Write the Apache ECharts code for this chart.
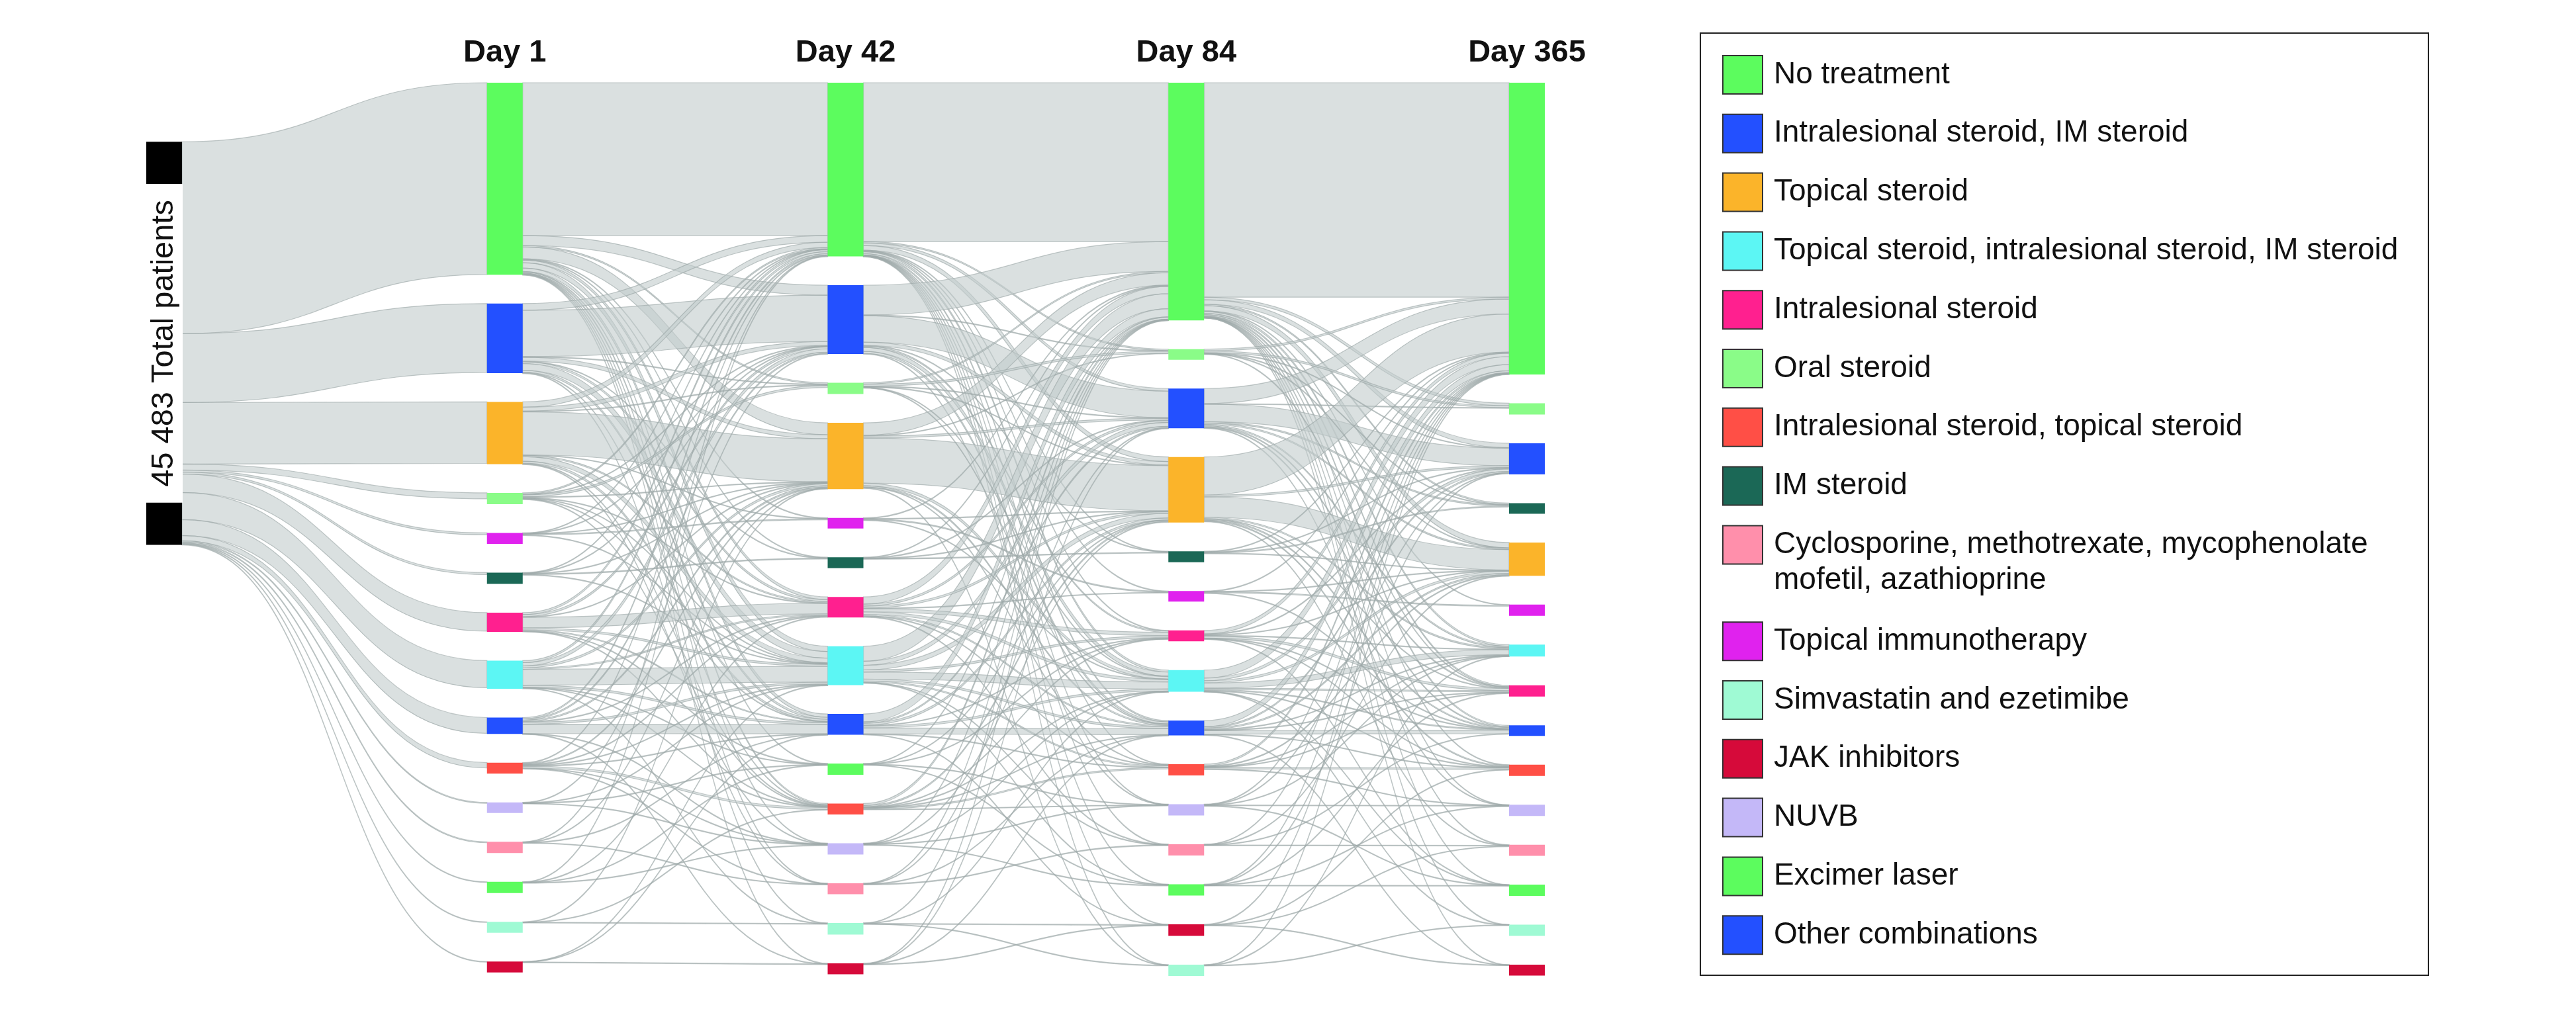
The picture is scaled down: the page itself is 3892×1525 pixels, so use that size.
<!DOCTYPE html>
<html><head><meta charset="utf-8">
<script src="https://cdn.jsdelivr.net/npm/echarts@6/dist/echarts.min.js"></script>
<style>html,body{margin:0;padding:0;background:#fff;}#c{width:3892px;height:1525px;}</style>
</head><body><div id="c"></div>
<script>
// ---------------- DATA ----------------
const categories = [
  'No treatment',
  'Intralesional steroid, IM steroid',
  'Topical steroid',
  'Topical steroid, intralesional steroid, IM steroid',
  'Intralesional steroid',
  'Oral steroid',
  'Intralesional steroid, topical steroid',
  'IM steroid',
  'Cyclosporine, methotrexate, mycophenolate\nmofetil, azathioprine',
  'Topical immunotherapy',
  'Simvastatin and ezetimibe',
  'JAK inhibitors',
  'NUVB',
  'Excimer laser',
  'Other combinations'
];
const dayLabels = ['Day 1', 'Day 42', 'Day 84', 'Day 365'];
const sourceLabel = '45 483 Total patients';

// node order (category index) in each column, top to bottom
const order1   = [0, 1, 2, 5, 9, 7, 4, 3, 14, 6, 12, 8, 13, 10, 11];
const order42  = [0, 1, 5, 2, 9, 7, 4, 3, 14, 13, 6, 12, 8, 10, 11];
const order84  = [0, 5, 1, 2, 7, 9, 4, 3, 14, 6, 12, 8, 13, 11, 10];
const order365 = [0, 5, 1, 7, 2, 9, 3, 4, 14, 6, 12, 8, 13, 10, 11];

// displayed node sizes (patients), in category order
const size1   = [21588, 7545, 6798, 3175, 2166, 1270, 1233, 1270, 1270, 1233, 1233, 1233, 1195, 1270, 1793];
const size42  = [19200, 7770, 7470, 4220, 2315, 1270, 1233, 1233, 1233, 1195, 1307, 1233, 1270, 1270, 2090];
const size84  = [26670, 4295, 7395, 2360, 1233, 1195, 1270, 1233, 1270, 1195, 1270, 1307, 1270, 1270, 1530];
const size365 = [32920, 3510, 3660, 1345, 1270, 1270, 1270, 1195, 1240, 1270, 1270, 1233, 1270, 1270, 1195];

// patients from the total into each Day 1 category (category order)
const sourceFlows = [21648, 7770, 6950, 3060, 2090, 670, 600, 225, 115, 225, 75, 75, 115, 75, 1790];

// transitions: [from category, to category, patients]
const flows1to42 = [
  [0,0,17255],[0,1,1120],[0,2,1345],[0,5,150],[0,4,300],[0,3,600],[0,14,375],[0,6,150],[0,9,75],[0,7,75],[0,13,50],[0,8,50],[0,12,50],[0,10,40],[0,11,40],
  [1,1,5230],[1,0,750],[1,2,450],[1,3,750],[1,4,225],[1,14,225],[1,5,75],[1,6,75],[1,7,40],[1,8,25],
  [2,2,4855],[2,0,600],[2,1,450],[2,3,525],[2,14,225],[2,4,150],[2,6,75],[2,5,75],[2,9,40],[2,12,25],
  [5,0,150],[5,5,225],[5,2,75],[5,1,75],[5,3,75],[5,4,40],[5,14,40],[5,6,25],
  [9,9,110],[9,0,40],[9,2,40],[9,3,40],[9,1,25],
  [7,7,90],[7,1,60],[7,0,40],[7,3,40],[7,2,25],
  [4,4,1195],[4,0,225],[4,1,225],[4,3,225],[4,14,110],[4,2,75],[4,6,40],[4,13,25],
  [3,3,1795],[3,1,375],[3,0,225],[3,2,225],[3,4,150],[3,14,225],[3,6,75],[3,10,25],[3,13,30],
  [14,14,1045],[14,1,150],[14,0,150],[14,3,225],[14,2,150],[14,4,75],[14,11,25],[14,12,25],
  [6,6,225],[6,2,110],[6,4,75],[6,3,75],[6,0,75],[6,14,40],[6,12,25],[6,8,30],
  [12,12,75],[12,13,40],[12,1,30],[12,3,25],
  [8,8,75],[8,0,40],[8,2,30],[8,14,25],
  [13,13,40],[13,12,35],[13,4,25],[13,0,30],
  [10,10,75],[10,6,25],[10,2,25],
  [11,11,75],[11,3,25],[11,14,25]
];
const flows42to84 = [
  [0,0,17930],[0,5,150],[0,1,300],[0,2,525],[0,3,225],[0,14,150],[0,4,75],[0,7,40],[0,9,40],[0,6,40],[0,12,25],[0,8,25],[0,13,25],[0,11,25],[0,10,25],
  [1,0,3360],[1,1,2990],[1,2,375],[1,3,450],[1,4,150],[1,14,225],[1,5,75],[1,7,75],[1,12,25],
  [2,0,1400],[2,2,5100],[2,1,225],[2,3,300],[2,14,150],[2,6,75],[2,5,75],[2,10,25],
  [3,0,1700],[3,3,800],[3,1,450],[3,2,525],[3,4,225],[3,14,225],[3,6,150],[3,13,25],[3,8,25],
  [4,0,820],[4,4,375],[4,1,225],[4,3,300],[4,2,225],[4,14,150],[4,6,75],[4,9,40],[4,8,25],
  [14,0,900],[14,14,670],[14,1,150],[14,3,225],[14,2,225],[14,4,75],[14,6,40],[14,11,25],
  [6,0,225],[6,6,150],[6,2,150],[6,4,50],[6,3,40],[6,14,25],[6,12,25],
  [5,0,150],[5,5,225],[5,2,75],[5,1,40],[5,3,35],[5,14,25],
  [9,0,75],[9,9,110],[9,2,40],[9,3,25],
  [7,0,75],[7,7,90],[7,1,40],[7,2,25],
  [13,13,60],[13,0,40],[13,12,30],[13,4,25],[13,2,25],
  [12,12,80],[12,0,40],[12,13,40],[12,2,25],[12,3,25],
  [8,8,85],[8,0,40],[8,1,30],[8,14,25],
  [10,10,60],[10,0,30],[10,11,25],[10,3,25],
  [11,11,80],[11,0,35],[11,14,25],[11,1,25]
];
const flows84to365 = [
  [0,0,24200],[0,5,300],[0,1,500],[0,2,600],[0,7,150],[0,3,200],[0,4,150],[0,14,150],[0,6,75],[0,9,75],[0,8,40],[0,12,25],[0,13,25],[0,10,15],[0,11,15],
  [1,0,1700],[1,1,2000],[1,7,150],[1,2,150],[1,3,150],[1,4,120],[1,14,100],[1,5,50],[1,12,25],
  [2,0,4300],[2,2,2300],[2,1,200],[2,3,150],[2,14,120],[2,6,120],[2,4,50],[2,8,25],
  [3,0,900],[3,3,600],[3,1,300],[3,2,250],[3,4,150],[3,14,100],[3,6,75],[3,10,25],[3,13,20],
  [4,0,400],[4,4,250],[4,1,100],[4,2,75],[4,3,50],[4,6,40],[4,14,35],[4,13,25],
  [14,0,700],[14,14,400],[14,1,150],[14,2,150],[14,3,75],[14,4,60],[14,6,60],[14,11,25],
  [5,0,200],[5,5,200],[5,2,50],[5,1,40],[5,7,35],[5,4,25],
  [6,0,200],[6,6,160],[6,2,100],[6,4,40],[6,3,30],[6,12,25],
  [7,0,60],[7,7,100],[7,1,45],[7,2,25],
  [9,0,50],[9,9,110],[9,2,30],[9,14,25],
  [12,12,60],[12,0,45],[12,13,30],[12,1,25],[12,3,25],
  [8,8,80],[8,0,30],[8,2,25],[8,14,25],
  [13,13,60],[13,0,40],[13,12,25],[13,4,25],[13,1,25],
  [11,11,70],[11,0,40],[11,8,20],[11,6,25],
  [10,10,50],[10,0,35],[10,3,25]
];

// ---------------- STYLE ----------------
const palette = ['#5cfc5e','#2350ff','#fbb42a','#5cf6f4','#ff208f','#8afc88','#ff4f46','#1b6856',
                 '#ff8fab','#e022ee','#9ffad4','#d60a3a','#c4b8f8','#5cfc5e','#2350ff'];
const FONT = '"Liberation Sans", Arial, sans-serif';

const orders = [order1, order42, order84, order365];
const sizes = [size1, size42, size84, size365];
const transitions = [flows1to42, flows42to84, flows84to365];
const nid = (c, cat) => dayLabels[c] + ' | ' + categories[cat];

function buildOption(srcLocalY, titleXs) {
  const srcNode = {
    name: sourceLabel, depth: 0, itemStyle: {color: '#000'},
    label: {show: true, position: 'inside', rotate: 90, formatter: sourceLabel,
      color: '#111', fontSize: 47, fontFamily: FONT, lineHeight: 48,
      backgroundColor: '#fff', padding: [4, 24]}
  };
  if (srcLocalY != null) srcNode.localY = srcLocalY;
  const data = [srcNode];
  orders.forEach((ord, c) => ord.forEach(cat => data.push({
    name: nid(c, cat), value: sizes[c][cat], depth: c + 1, itemStyle: {color: palette[cat]}
  })));
  const links = [];
  sourceFlows.forEach((v, cat) => links.push({source: sourceLabel, target: nid(0, cat), value: v}));
  transitions.forEach((fl, c) => fl.forEach(f => links.push({source: nid(c, f[0]), target: nid(c + 1, f[1]), value: f[2]})));

  const graphic = [];
  if (titleXs) titleXs.forEach((x, i) => graphic.push({type: 'text', silent: true,
    style: {text: dayLabels[i], x: x, y: 80, align: 'center', verticalAlign: 'middle',
      font: 'bold 47px ' + FONT, fill: '#111'}}));
  graphic.push({type: 'rect', silent: true, shape: {x: 2569, y: 50, width: 1100, height: 1424},
    style: {fill: 'none', stroke: '#222', lineWidth: 2}});
  categories.forEach((name, i) => {
    const y = 84 + i * 88.8 + (i > 8 ? 57 : 0);
    graphic.push({type: 'rect', silent: true, shape: {x: 2603, y: y, width: 60, height: 58},
      style: {fill: palette[i], stroke: '#333', lineWidth: 2}});
    graphic.push({type: 'text', silent: true,
      style: {text: name, x: 2680, y: y + 2, align: 'left', verticalAlign: 'top',
        font: '46px ' + FONT, fill: '#111', lineHeight: 54}});
  });

  return {
    animation: false,
    backgroundColor: '#fff',
    series: [{
      type: 'sankey', left: 221, top: 125, width: 2113, height: 1350,
      nodeWidth: 54, nodeGap: 43.5, layoutIterations: 0, draggable: false, silent: true,
      emphasis: {disabled: true},
      label: {show: false},
      itemStyle: {borderWidth: 0},
      lineStyle: {color: '#c2cccc', opacity: 0.6, curveness: 0.5, borderColor: '#98a4a4', borderWidth: 1.2},
      data: data, links: links
    }],
    graphic: graphic
  };
}

const chart = echarts.init(document.getElementById('c'), null, {renderer: 'canvas'});
chart.setOption(buildOption(null, null));
try {
  const sm = chart.getModel().getSeriesByIndex(0);
  const g = sm.getGraph();
  const info = sm.layoutInfo;
  const src = g.getNodeByIndex(0);
  let w = 0, cs = 0;
  src.outEdges.forEach(e => { const l = e.node2.getLayout(); const v = e.getValue(); w += v; cs += (l.y + l.dy / 2) * v; });
  const localY = (cs / w - src.getLayout().dy / 2) / info.height;
  const titleXs = orders.map((ord, c) => {
    const nl = g.getNodeByIndex(1 + c * 15).getLayout();
    return info.x + nl.x + nl.dx / 2;
  });
  chart.setOption(buildOption(localY, titleXs), true);
} catch (err) {
  console.error(err);
  chart.setOption(buildOption(null, [762, 1277, 1792, 2307]), true);
}
</script></body></html>
